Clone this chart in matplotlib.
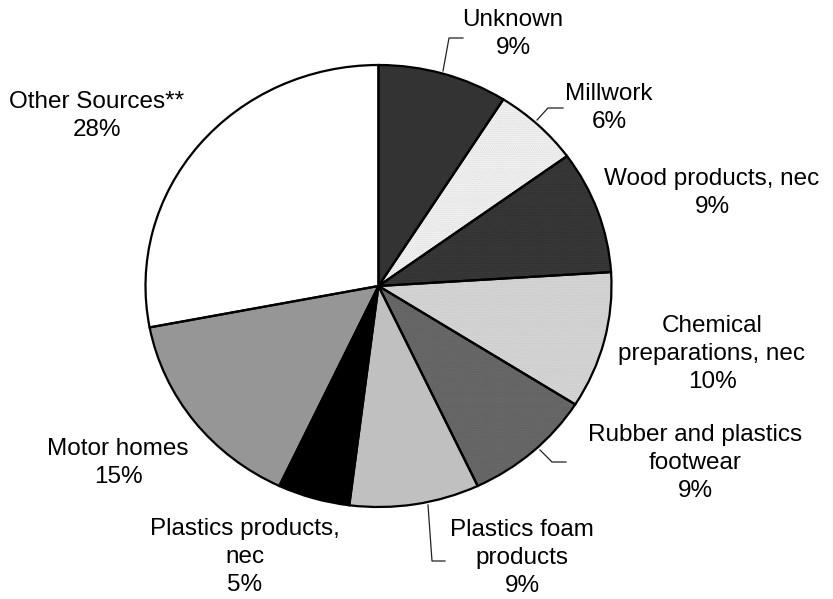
import matplotlib.pyplot as plt
from matplotlib.lines import Line2D

plt.rcParams["font.family"] = ["Liberation Sans", "DejaVu Sans"]

W, H = 833, 599

# slices, clockwise from 12 o'clock
labels = [
    "Unknown",
    "Millwork",
    "Wood products, nec",
    "Chemical\npreparations, nec",
    "Rubber and plastics\nfootwear",
    "Plastics foam\nproducts",
    "Plastics products,\nnec",
    "Motor homes",
    "Other Sources**",
]
shares = [9, 6, 9, 10, 9, 9, 5, 15, 28]

face_colors = ["#333333", "#ffffff", "#262626", "#e0e0e0", "#5a5a5a",
               "#c0c0c0", "#000000", "#969696", "#ffffff"]
hatch_colors = [None, "#d4d4d4", "#484848", "#c0c0c0", "#747474",
                None, None, None, None]

# label block centres in pixels (x, y from top)
label_pos = [(513, 34), (609, 108), (712, 193), (712, 354), (695, 463),
             (522, 558), (245, 557), (118, 463), (97, 116)]

# leader lines in pixels
leaders = {
    0: [(443, 71), (449, 38), (463, 38)],
    1: [(537, 120), (548, 108), (563, 108)],
    4: [(540, 450), (552, 462), (566, 462)],
    5: [(428, 505), (432, 561), (445, 561)],
}

# pie centre and radii in pixels (slightly squashed vertically)
cx, cy, rx, ry = 378.5, 286, 233, 221

fig = plt.figure(figsize=(W / 100, H / 100), dpi=100)
ax = fig.add_axes([0, 0, 1, 1])

wedges, _ = ax.pie(shares, colors=face_colors, startangle=90, counterclock=False,
                   wedgeprops=dict(linewidth=0))
for w, hc in zip(wedges, hatch_colors):
    if hc:
        w.set_hatch("........")
        w.set_edgecolor(hc)

ax.pie(shares, startangle=90, counterclock=False,
       wedgeprops=dict(fill=False, edgecolor="black", linewidth=1.6))

ax.set_aspect("auto")
ax.set_xlim(-cx / rx, (W - cx) / rx)
ax.set_ylim(-(H - cy) / ry, cy / ry)
ax.axis("off")

for lab, pct, (px, py) in zip(labels, shares, label_pos):
    fig.text(px / W, 1 - py / H, f"{lab}\n{pct}%", ha="center", va="center",
             fontsize=17.5, linespacing=1.38, color="black")

for pts in leaders.values():
    xs = [p[0] / W for p in pts]
    ys = [1 - p[1] / H for p in pts]
    fig.add_artist(Line2D(xs, ys, transform=fig.transFigure, color="#222222", linewidth=0.9))

fig.savefig("out.png", dpi=100, facecolor="white")
